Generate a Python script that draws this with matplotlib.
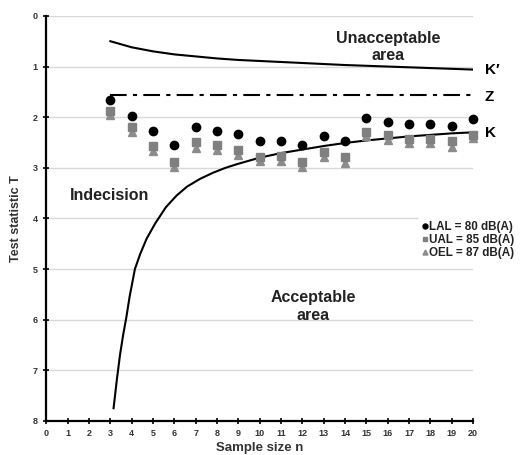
import matplotlib.pyplot as plt

plt.rcParams['font.family'] = ['Liberation Sans', 'DejaVu Sans']
plt.rcParams['font.weight'] = 'bold'

# sample sizes and test statistic per action level
n = list(range(3, 21))
lal = [1.66, 1.98, 2.27, 2.55, 2.2, 2.27, 2.33, 2.47, 2.47, 2.55, 2.37, 2.48, 2.02, 2.09, 2.13, 2.13, 2.17, 2.04]
ual = [1.88, 2.2, 2.56, 2.88, 2.5, 2.55, 2.65, 2.78, 2.77, 2.88, 2.68, 2.79, 2.29, 2.35, 2.44, 2.44, 2.48, 2.35]
oel = [1.96, 2.3, 2.66, 2.98, 2.6, 2.65, 2.75, 2.86, 2.86, 2.98, 2.78, 2.9, 2.38, 2.45, 2.51, 2.51, 2.58, 2.42]

# limit curves
k_x = [3.15, 3.3, 3.45, 3.6, 3.75, 3.9, 4.15, 4.4, 4.7, 5.1, 5.6, 6.1, 6.6, 7.2, 7.8, 8.4, 9.0, 10.0, 11.0, 12.0, 13.0, 14.0, 15.0, 16.0, 17.0, 18.0, 19.0, 20.0]
k_y = [7.75, 7.2, 6.7, 6.3, 5.95, 5.55, 5.0, 4.7, 4.4, 4.1, 3.78, 3.55, 3.37, 3.22, 3.1, 3.0, 2.92, 2.8, 2.71, 2.64, 2.57, 2.51, 2.46, 2.42, 2.38, 2.35, 2.32, 2.3]
kp_x = [3, 4, 5, 6, 7, 8, 9, 10, 12, 14, 16, 18, 20]
kp_y = [0.5, 0.62, 0.7, 0.76, 0.8, 0.84, 0.87, 0.89, 0.93, 0.97, 1.0, 1.03, 1.06]
z_x = [3, 20]
z_y = [1.56, 1.56]

fig = plt.figure(figsize=(5.21, 4.55), dpi=100)
ax = fig.add_axes([0.089, 0.075, 0.819, 0.89])

for t in range(0, 8):
    ax.axhline(t, color='#d9d9d9', lw=1, zorder=0)

ax.plot(kp_x, kp_y, color='black', lw=1.5, zorder=2)
ax.plot(z_x, z_y, color='black', lw=1.5, linestyle=(0, (8, 3, 2, 3)), zorder=2)
ax.plot(k_x, k_y, color='black', lw=1.5, zorder=2)

ax.plot(n, oel, '^', color='#8c8c8c', ms=6, ls='none', clip_on=False, zorder=3, label='OEL = 87 dB(A)')
ax.plot(n, ual, 's', color='#808080', ms=6, ls='none', clip_on=False, zorder=4, label='UAL = 85 dB(A)')
ax.plot(n, lal, 'o', color='black', ms=6, ls='none', clip_on=False, zorder=5, label='LAL = 80 dB(A)')

ax.set_xlim(0, 20)
ax.set_ylim(8, 0)
ax.set_xticks(range(0, 21))
ax.set_yticks(range(0, 9))
ax.tick_params(direction='inout', length=5, width=1.2, labelsize=6.5, labelcolor='#333333')
for lbl in ax.get_xticklabels() + ax.get_yticklabels():
    lbl.set_fontweight('bold')
for side in ['top', 'right']:
    ax.spines[side].set_visible(False)
for side in ['left', 'bottom']:
    ax.spines[side].set_linewidth(1.6)

ax.set_xlabel('Sample size n', fontsize=9.5, fontweight='bold', color='#333333', labelpad=3)
ax.set_ylabel('Test statistic T', fontsize=9, fontweight='bold', color='#333333', labelpad=8)

ax.text(16.0, 0.61, 'Unacceptable\narea', ha='center', va='center', fontsize=11.5, fontweight='bold', color='#222222')
ax.text(1.1, 3.54, 'Indecision', ha='left', va='center', fontsize=11.5, fontweight='bold', color='#222222')
ax.text(12.5, 5.74, 'Acceptable\narea', ha='center', va='center', fontsize=11.5, fontweight='bold', color='#222222')
ax.text(20.55, 1.07, "K\u2032", ha='left', va='center', fontsize=11, fontweight='bold', clip_on=False)
ax.text(20.55, 1.6, 'Z', ha='left', va='center', fontsize=11, fontweight='bold', clip_on=False)
ax.text(20.55, 2.31, 'K', ha='left', va='center', fontsize=11, fontweight='bold', clip_on=False)

h, l = ax.get_legend_handles_labels()
leg = fig.legend(h[::-1], l[::-1], loc='upper left', bbox_to_anchor=(0.803, 0.522),
                 fontsize=8.4, frameon=True, facecolor='white', edgecolor='none',
                 framealpha=1, handlelength=0.5, handletextpad=0.15, labelspacing=0.08,
                 borderpad=0.3, markerscale=0.6, borderaxespad=0)
for txt in leg.get_texts():
    txt.set_fontweight('bold')
    txt.set_color('#222222')

fig.savefig('out.png', dpi=100)
